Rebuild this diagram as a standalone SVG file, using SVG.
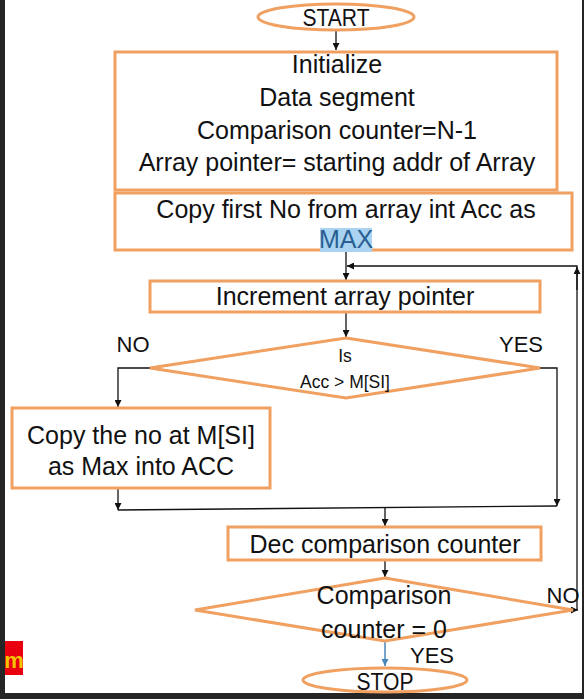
<svg xmlns="http://www.w3.org/2000/svg" width="584" height="699" viewBox="0 0 584 699">
<style>
.n{fill:#fff;stroke:#f0a060;stroke-width:3}
.t{font-family:"Liberation Sans",Arial,sans-serif;font-size:25px;fill:#111;text-anchor:middle}
.s{font-size:17.5px}
.l{font-size:22px}
.c{fill:none;stroke:#111;stroke-width:1.3}
</style>
<defs>
<marker id="a" viewBox="0 0 10 10" refX="10" refY="5" markerWidth="7" markerHeight="7" orient="auto" markerUnits="userSpaceOnUse"><path d="M0,0 L10,5 L0,10 z" fill="#111"/></marker>
<marker id="b" viewBox="0 0 10 10" refX="10" refY="5" markerWidth="7" markerHeight="7" orient="auto" markerUnits="userSpaceOnUse"><path d="M0,0 L10,5 L0,10 z" fill="#4a86b8"/></marker>
</defs>
<rect width="584" height="699" fill="#fff"/>
<rect x="0" y="0" width="5" height="699" fill="#252525"/>
<rect x="582" y="0" width="2" height="699" fill="#252525"/>
<rect x="0" y="693" width="584" height="6" fill="#252525"/>
<g id="connectors">
<path class="c" d="M336,30 V50" marker-end="url(#a)"/>
<path class="c" d="M336,172 V191" marker-end="url(#a)"/>
<path class="c" d="M346,250 V280" marker-end="url(#a)"/>
<path class="c" d="M577,610 V266 H347" marker-end="url(#a)"/>
<path class="c" d="M577,290 V267" marker-end="url(#a)"/>
<path class="c" d="M346,312 V337" marker-end="url(#a)"/>
<path class="c" d="M150,368 H118 V407" marker-end="url(#a)"/>
<path class="c" d="M540,368 H557 V506" marker-end="url(#a)"/>
<path class="c" d="M118,488 V510" marker-end="url(#a)"/>
<path class="c" d="M118,510 L557,506"/>
<path class="c" d="M385,508 V526" marker-end="url(#a)"/>
<path class="c" d="M385,560 V577" marker-end="url(#a)"/>
<path class="c" d="M560,610 H578" marker-end="url(#a)"/>
<path d="M385,641 V666" fill="none" stroke="#4a86b8" stroke-width="1.5" marker-end="url(#b)"/>
</g>
<g id="start"><ellipse class="n" cx="336" cy="17" rx="78" ry="13"/><text class="t" x="336" y="26" style="font-size:24px" textLength="67" lengthAdjust="spacingAndGlyphs">START</text></g>
<g id="init"><rect class="n" x="115" y="52" width="442" height="138"/>
<text class="t" x="337" y="73">Initialize</text>
<text class="t" x="337" y="106">Data segment</text>
<text class="t" x="337" y="139">Comparison counter=N-1</text>
<text class="t" x="337" y="171">Array pointer= starting addr of Array</text></g>
<g id="copyfirst"><rect class="n" x="115" y="193" width="457" height="57"/>
<text class="t" x="346" y="218">Copy first No from array int Acc as</text>
<rect x="320" y="228" width="52" height="24" fill="#a9d3f0"/>
<text class="t" x="346" y="248" style="fill:#2a5f93">MAX</text></g>
<g id="incr"><rect class="n" x="150" y="281" width="390" height="31"/><text class="t" x="345" y="305">Increment array pointer</text></g>
<g id="dec1"><polygon class="n" points="346,338 540,368 346,398 150,368"/>
<text class="t s" x="345" y="362">Is</text><text class="t s" x="345" y="388">Acc &gt; M[SI]</text></g>
<text class="t l" x="133" y="352">NO</text>
<text class="t l" x="521" y="352">YES</text>
<g id="copyno"><rect class="n" x="12" y="408" width="258" height="80"/>
<text class="t" x="141" y="444">Copy the no at M[SI]</text><text class="t" x="141" y="475">as Max into ACC</text></g>
<g id="deccnt"><rect class="n" x="228" y="527" width="313" height="33"/><text class="t" x="385" y="553">Dec comparison counter</text></g>
<g id="dec2"><polygon class="n" points="385,578 573,610 385,641 195,610"/>
<text class="t" x="384" y="604">Comparison</text><text class="t" x="384" y="638">counter = 0</text></g>
<text class="t l" x="563" y="603">NO</text>
<text class="t l" x="432" y="663">YES</text>
<g id="stop"><ellipse class="n" cx="385" cy="680" rx="82" ry="12"/><text class="t" x="385" y="690" style="font-size:24px" textLength="57" lengthAdjust="spacingAndGlyphs">STOP</text></g>
<rect x="5" y="641" width="18" height="34" fill="#e8000f"/>
<text x="14" y="668" style="font-family:'Liberation Sans',Arial,sans-serif;font-size:22px;font-weight:bold;fill:#f5c400;text-anchor:middle">m</text>
</svg>
